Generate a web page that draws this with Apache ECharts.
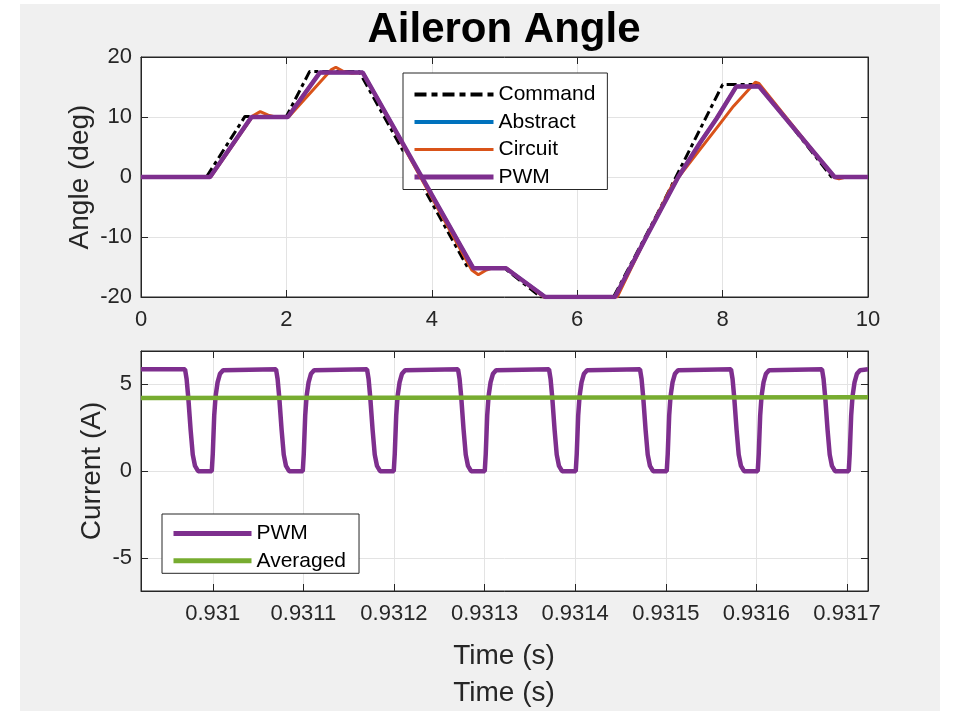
<!DOCTYPE html>
<html>
<head>
<meta charset="utf-8">
<script src="https://cdn.jsdelivr.net/npm/echarts@6/dist/echarts.min.js"></script>
<style>
html,body{margin:0;padding:0;background:#fff;}
#chart{width:961px;height:711px;}
</style>
</head>
<body>
<div id="chart"></div>
<script>
// ---------- Top plot data (time in s, angle in deg) ----------
const commandData = [[0,0],[0.9,0],[1.43,10.1],[2.0,10.1],[2.32,17.6],[3.0,17.6],[4.5,-15.2],[5.0,-15.2],[5.5,-20],[6.5,-20],[7.1,-6.2],[8.0,15.4],[8.5,15.4],[9.5,0],[10,0]];
const abstractData = [[0,0],[0.95,0],[1.52,10],[2.02,10],[2.46,17.4],[3.05,17.4],[4.57,-15.2],[5.02,-15.2],[5.56,-20],[6.52,-20],[6.95,-10],[7.39,0],[7.69,5.7],[7.92,9.8],[8.19,15.1],[8.5,15.1],[9.54,0],[10,0]];
const circuitData = [[0,0],[0.96,0],[1.54,10.2],[1.64,10.9],[1.75,10.3],[1.85,10],[2.03,10],[2.62,17.9],[2.68,18.3],[2.78,17.6],[2.9,17.3],[3.05,17.4],[4.55,-15.5],[4.64,-16.3],[4.75,-15.5],[4.85,-15.1],[5.03,-15.2],[5.56,-20.2],[5.62,-20.3],[5.72,-20],[6.55,-20],[6.95,-10],[7.3,-1.5],[7.69,4.6],[7.92,8.2],[8.15,11.8],[8.45,15.8],[8.5,15.6],[9.54,-0.1],[9.6,-0.3],[9.7,0],[10,0]];
const pwmAngleData = [[0,0],[0.95,0],[1.52,10],[2.02,10],[2.46,17.4],[3.05,17.4],[4.57,-15.2],[5.02,-15.2],[5.56,-20],[6.52,-20],[6.95,-10],[7.39,0],[7.69,5.7],[7.92,9.8],[8.19,15.1],[8.5,15.1],[9.54,0],[10,0]];
const topXTicks = {min:0, max:10, interval:2};
const topYTicks = {min:-20, max:20, interval:10};

// ---------- Bottom plot data (time in s, current in A) ----------
const pwmTime = [
0.9309208,
0.93096942,0.93097112,0.93097302,0.93097552,0.93097792,0.93098042,0.93098382,0.93099892,0.93100002,0.93100162,0.93100312,0.93100532,0.93100802,0.93101142,0.93101362,
0.93106985,0.93107155,0.93107345,0.93107595,0.93107835,0.93108085,0.93108425,0.93109935,0.93110045,0.93110205,0.93110355,0.93110575,0.93110845,0.93111185,0.93111405,
0.93117028,0.93117198,0.93117388,0.93117638,0.93117878,0.93118128,0.93118468,0.93119978,0.93120088,0.93120248,0.93120398,0.93120618,0.93120888,0.93121228,0.93121448,
0.93127071,0.93127241,0.93127431,0.93127681,0.93127921,0.93128171,0.93128511,0.93130021,0.93130131,0.93130291,0.93130441,0.93130661,0.93130931,0.93131271,0.93131491,
0.93137114,0.93137284,0.93137474,0.93137724,0.93137964,0.93138214,0.93138554,0.93140064,0.93140174,0.93140334,0.93140484,0.93140704,0.93140974,0.93141314,0.93141534,
0.93147157,0.93147327,0.93147517,0.93147767,0.93148007,0.93148257,0.93148597,0.93150107,0.93150217,0.93150377,0.93150527,0.93150747,0.93151017,0.93151357,0.93151577,
0.93157200,0.93157370,0.93157560,0.93157810,0.93158050,0.93158300,0.93158640,0.93160150,0.93160260,0.93160420,0.93160570,0.93160790,0.93161060,0.93161400,0.93161620,
0.93167243,0.93167413,0.93167603,0.93167853,0.93168093,0.93168343,0.93168683,0.93170193,0.93170303,0.93170463,0.93170613,0.93170833,0.93171103,0.93171443,0.93171663,
0.9317232];
const pwmCurrent = [
5.85,
5.85,5.3,4.2,2.4,0.95,0.3,0,0,1.0,3.2,4.3,5.1,5.6,5.8,5.85,
5.85,5.3,4.2,2.4,0.95,0.3,0,0,1.0,3.2,4.3,5.1,5.6,5.8,5.85,
5.85,5.3,4.2,2.4,0.95,0.3,0,0,1.0,3.2,4.3,5.1,5.6,5.8,5.85,
5.85,5.3,4.2,2.4,0.95,0.3,0,0,1.0,3.2,4.3,5.1,5.6,5.8,5.85,
5.85,5.3,4.2,2.4,0.95,0.3,0,0,1.0,3.2,4.3,5.1,5.6,5.8,5.85,
5.85,5.3,4.2,2.4,0.95,0.3,0,0,1.0,3.2,4.3,5.1,5.6,5.8,5.85,
5.85,5.3,4.2,2.4,0.95,0.3,0,0,1.0,3.2,4.3,5.1,5.6,5.8,5.85,
5.85,5.3,4.2,2.4,0.95,0.3,0,0,1.0,3.2,4.3,5.1,5.6,5.8,5.85,
5.85];
const averagedData = [[0.9309208,4.2],[0.9317232,4.25]];
const bottomXRange = {min:0.9309208, max:0.9317232};
const bottomXTicks = [0.931,0.9311,0.9312,0.9313,0.9314,0.9315,0.9316,0.9317];
const bottomYRange = {min:-6.88, max:6.9};
const bottomYTicks = [-5,0,5];

const FONT = "'Liberation Sans', Arial, Helvetica, sans-serif";
const AX = '#262626';
const GRIDC = '#e3e3e3';

const pwmCurrentData = pwmTime.map((t,i)=>[t,pwmCurrent[i]]);

function baseAxis(extra){
  return Object.assign({
    type:'value',
    axisLine:{show:true,onZero:false,lineStyle:{color:AX,width:1}},
    axisTick:{show:true,inside:true,length:7,lineStyle:{color:AX,width:1}},
    axisLabel:{color:AX,fontSize:22,fontFamily:FONT},
    splitLine:{show:false}
  },extra);
}
const fmtT = v => String(Math.round(v*1e4)/1e4);

const chart = echarts.init(document.getElementById('chart'),null,{renderer:'canvas'});
chart.setOption({
  animation:false,
  backgroundColor:'#ffffff',
  graphic:[
    {type:'rect',z:-10,silent:true,shape:{x:20,y:4,width:920,height:707},style:{fill:'#f0f0f0'}},
    {type:'text',z:10,x:504,y:30,style:{text:'Aileron Angle',font:"bold 42px "+FONT,fill:'#000',align:'center',verticalAlign:'middle'}},
    {type:'text',z:10,x:80,y:177,rotation:Math.PI/2,style:{text:'Angle (deg)',font:"28px "+FONT,fill:AX,align:'center',verticalAlign:'middle'}},
    {type:'text',z:10,x:92,y:471,rotation:Math.PI/2,style:{text:'Current (A)',font:"28px "+FONT,fill:AX,align:'center',verticalAlign:'middle'}},
    {type:'text',z:10,x:504,y:656,style:{text:'Time (s)',font:"28px "+FONT,fill:AX,align:'center',verticalAlign:'middle'}},
    {type:'text',z:10,x:504,y:693,style:{text:'Time (s)',font:"28px "+FONT,fill:AX,align:'center',verticalAlign:'middle'}}
  ],
  grid:[
    {left:141,top:57,width:727,height:240,show:true,backgroundColor:'#fff',borderColor:AX,borderWidth:1},
    {left:141,top:351,width:727,height:240,show:true,backgroundColor:'#fff',borderColor:AX,borderWidth:1}
  ],
  xAxis:[
    baseAxis({gridIndex:0,position:'bottom',min:topXTicks.min,max:topXTicks.max,interval:topXTicks.interval,
      axisLabel:{color:AX,fontSize:22,fontFamily:FONT,margin:12},
      splitLine:{show:true,lineStyle:{color:GRIDC,width:1}}}),
    baseAxis({gridIndex:0,position:'top',min:topXTicks.min,max:topXTicks.max,interval:topXTicks.interval,axisLabel:{show:false}}),
    baseAxis({gridIndex:1,position:'bottom',min:bottomXRange.min,max:bottomXRange.max,
      axisTick:{show:true,inside:true,length:7,lineStyle:{color:AX,width:1},customValues:bottomXTicks},
      axisLabel:{color:AX,fontSize:22,fontFamily:FONT,margin:12,customValues:bottomXTicks,formatter:fmtT},
      splitLine:{show:true,lineStyle:{color:GRIDC,width:1}}}),
    baseAxis({gridIndex:1,position:'top',min:bottomXRange.min,max:bottomXRange.max,
      axisTick:{show:true,inside:true,length:7,lineStyle:{color:AX,width:1},customValues:bottomXTicks},
      axisLabel:{show:false}})
  ],
  yAxis:[
    baseAxis({gridIndex:0,position:'left',min:topYTicks.min,max:topYTicks.max,interval:topYTicks.interval,
      axisLabel:{color:AX,fontSize:22,fontFamily:FONT,margin:9},
      splitLine:{show:true,lineStyle:{color:GRIDC,width:1}}}),
    baseAxis({gridIndex:0,position:'right',min:topYTicks.min,max:topYTicks.max,interval:topYTicks.interval,axisLabel:{show:false}}),
    baseAxis({gridIndex:1,position:'left',min:bottomYRange.min,max:bottomYRange.max,
      axisTick:{show:true,inside:true,length:7,lineStyle:{color:AX,width:1},customValues:bottomYTicks},
      axisLabel:{color:AX,fontSize:22,fontFamily:FONT,margin:9,customValues:bottomYTicks},
      splitLine:{show:true,lineStyle:{color:GRIDC,width:1}}}),
    baseAxis({gridIndex:1,position:'right',min:bottomYRange.min,max:bottomYRange.max,
      axisTick:{show:true,inside:true,length:7,lineStyle:{color:AX,width:1},customValues:bottomYTicks},
      axisLabel:{show:false}})
  ],
  legend:[
    {data:[
       {name:'Command',lineStyle:{width:4,type:[12,5,6,5]}},
       {name:'Abstract',lineStyle:{width:4}},
       {name:'Circuit',lineStyle:{width:3}},
       {name:'PWM',lineStyle:{width:5}}],
     orient:'vertical',left:403,top:73,
     padding:[11,12,2,9],itemWidth:79,itemHeight:21,itemGap:6.5,
     itemStyle:{opacity:0},
     backgroundColor:'#fff',borderColor:AX,borderWidth:1,borderRadius:0,
     textStyle:{fontSize:21,fontFamily:FONT,color:'#000'},selectedMode:false},
    {data:[
       {name:'PWM',lineStyle:{width:5}},
       {name:'Averaged',lineStyle:{width:5}}],
     orient:'vertical',left:162,top:514,
     padding:[9,13,2,9],itemWidth:78,itemHeight:22,itemGap:6.3,
     itemStyle:{opacity:0},
     backgroundColor:'#fff',borderColor:AX,borderWidth:1,borderRadius:0,
     textStyle:{fontSize:21,fontFamily:FONT,color:'#000'},selectedMode:false}
  ],
  series:[
    {name:'Command',type:'line',xAxisIndex:0,yAxisIndex:0,data:commandData,symbol:'none',
     lineStyle:{color:'#000',width:3,type:[10,4,4,4]},itemStyle:{color:'#000'},z:2},
    {name:'Abstract',type:'line',xAxisIndex:0,yAxisIndex:0,data:abstractData,symbol:'none',
     lineStyle:{color:'#0072BD',width:3.5},itemStyle:{color:'#0072BD'},z:3},
    {name:'Circuit',type:'line',xAxisIndex:0,yAxisIndex:0,data:circuitData,symbol:'none',
     lineStyle:{color:'#D95319',width:3},itemStyle:{color:'#D95319'},z:4},
    {name:'PWM',type:'line',xAxisIndex:0,yAxisIndex:0,data:pwmAngleData,symbol:'none',
     lineStyle:{color:'#7E2F8E',width:4.5},itemStyle:{color:'#7E2F8E'},z:5},
    {name:'PWM',type:'line',xAxisIndex:2,yAxisIndex:2,data:pwmCurrentData,symbol:'none',
     lineStyle:{color:'#7E2F8E',width:4.5},itemStyle:{color:'#7E2F8E'},z:5},
    {name:'Averaged',type:'line',xAxisIndex:2,yAxisIndex:2,data:averagedData,symbol:'none',
     lineStyle:{color:'#77AC30',width:4.5},itemStyle:{color:'#77AC30'},z:6}
  ]
});
</script>
</body>
</html>
